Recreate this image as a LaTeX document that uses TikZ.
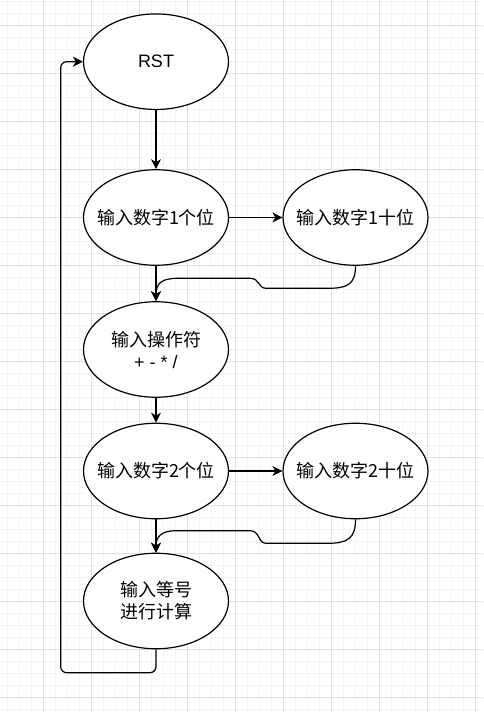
\documentclass[tikz,border=0pt]{standalone}
\usepackage{fontspec}
\setmainfont{Liberation Sans}
\newfontfamily\cjk{Noto Sans CJK SC}
\usetikzlibrary{arrows.meta,shapes.geometric}
\definecolor{gridminor}{RGB}{244,244,244}
\definecolor{gridmajor}{RGB}{224,224,224}
\tikzset{
  state/.style={ellipse, draw=black, line width=1.2pt, fill=white,
    minimum width=145pt, minimum height=95.5pt, inner xsep=-15pt, inner ysep=-10pt,
    align=center, font=\fontsize{18}{22}\selectfont\cjk},
  conn/.style={line width=1.2pt, -{Stealth[length=10pt,width=10pt,inset=3pt]}},
}
\begin{document}
\begin{tikzpicture}[x=1pt,y=-1pt]
\useasboundingbox (0,0) rectangle (483,712);
\fill[white] (0,0) rectangle (483,712);
% grid
\foreach \i in {0,...,40} {
  \draw[gridminor, line width=0.8pt] ({7.3+12*\i},0) -- ({7.3+12*\i},712);
}
\foreach \i in {0,...,59} {
  \draw[gridminor, line width=0.8pt] (0,{1+12*\i}) -- (483,{1+12*\i});
}
\foreach \i in {0,...,9} {
  \draw[gridmajor, line width=0.8pt] ({43.3+48*\i},0) -- ({43.3+48*\i},712);
}
\foreach \i in {0,...,14} {
  \draw[gridmajor, line width=0.8pt] (0,{25+48*\i}) -- (483,{25+48*\i});
}

% nodes
\node[state, font=\fontsize{18}{22}\selectfont] (rst) at (156,61.7) {RST};
\node[state] (d1g) at (156,217.5) {输入数字1个位};
\node[state] (d1s) at (355.5,217.5) {输入数字1十位};
\node[state] (op) at (156,349.5) {输入操作符\\{\rmfamily + - * /}};
\node[state] (d2g) at (156,471) {输入数字2个位};
\node[state] (d2s) at (355.5,471) {输入数字2十位};
\node[state] (eq) at (156,601) {输入等号\\进行计算};

\coordinate (loop) at (60.7,672.7);

% connectors
\draw[conn] (rst) -- (d1g);
\draw[conn] (d1g) -- (d1s);
\draw[conn] (d1g) -- (op);
\draw[conn] (op) -- (d2g);
\draw[conn] (d2g) -- (d2s);
\draw[conn] (d2g) -- (eq);

\draw[conn] (d1s.south) .. controls (355.5,284) and (348,288.3) .. (328,288.3)
  -- (266,288.3) .. controls (258,288.3) and (260,278.3) .. (250,278.3)
  -- (178,278.3) .. controls (162,278.3) and (156,283) .. (op.north);
\draw[conn] (d2s.south) .. controls (355.5,538) and (348,543.3) .. (328,543.3)
  -- (266,543.3) .. controls (258,543.3) and (260,530.7) .. (250,530.7)
  -- (176,530.7) .. controls (162,530.7) and (156,536) .. (eq.north);

\draw[conn, rounded corners=6pt] (eq.south) |- (loop) |- (rst.west);
\end{tikzpicture}
\end{document}
